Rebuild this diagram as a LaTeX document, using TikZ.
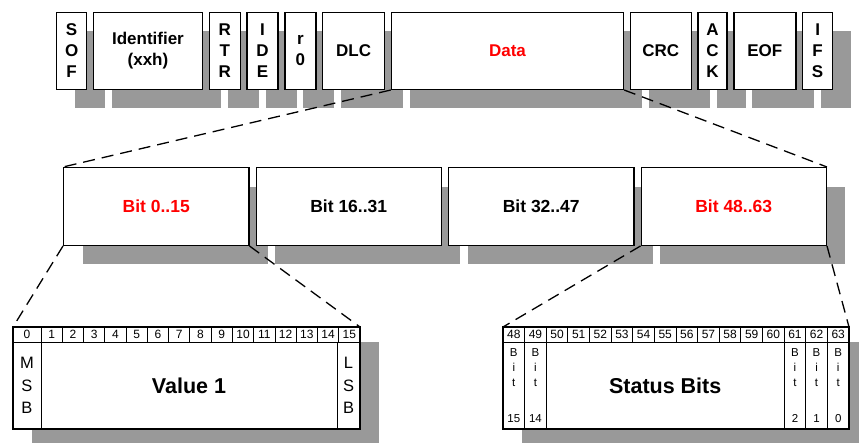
\documentclass[tikz,border=0pt]{standalone}
\usepackage{fontspec}
\setmainfont{Liberation Sans}
\usetikzlibrary{positioning,shadows}
\definecolor{shade}{RGB}{153,153,153}
\definecolor{hot}{RGB}{255,0,0}
\def\Gap{5.5pt}
\def\Cell{21.27}
\def\Rcell{21.625}

\begin{document}
\begin{tikzpicture}[x=1pt,y=-1pt,% styles for the whole frame picture
			every node/.style={
				align=center,		% so that "\\" breaks the line
				inner sep=0pt
			},
			field/.style={rectangle,draw=black,fill=white,line width=1.3pt,minimum height=76.7pt,
				font=\bfseries\fontsize{17}{21}\selectfont,
				drop shadow={shadow xshift=18.5pt,shadow yshift=-18.5pt,fill=shade,opacity=1}},
			bitgroup/.style={rectangle,draw=black,fill=white,line width=1.3pt,minimum width=185.2pt,minimum height=77.7pt,
				font=\bfseries\fontsize{17.5}{21}\selectfont,
				drop shadow={shadow xshift=19pt,shadow yshift=-19pt,fill=shade,opacity=1}},
			table/.style={rectangle,fill=white,outer sep=0pt,anchor=north west,minimum height=102pt,
				drop shadow={shadow xshift=19pt,shadow yshift=-15pt,fill=shade,opacity=1}},
			hdr/.style={rectangle,draw=black,fill=white,line width=0.9pt,outer sep=0pt,anchor=north west,
				minimum height=15pt,font=\fontsize{12}{14}\selectfont},
			cell/.style={rectangle,draw=black,fill=white,line width=0.9pt,outer sep=0pt,anchor=north west,
				minimum height=87pt},
			cutline/.style={dash pattern=on 12pt off 7pt,line width=1.3pt}
		]
		\useasboundingbox (0,0) rectangle (859,443);
		% CAN frame
		\node[field,minimum width=30pt,anchor=north west](SOF) at (56,12){S\\O\\F};
		\node[field,minimum width=109pt](ID)[right=\Gap of SOF]{Identifier\\(xxh)};
		\node[field,minimum width=31pt](RTR)[right=\Gap of ID]{R\\T\\R};
		\node[field,minimum width=31pt](IDE)[right=\Gap of RTR]{I\\D\\E};
		\node[field,minimum width=31pt](R0)[right=\Gap of IDE]{r\\0};
		\node[field,minimum width=62pt](DLC)[right=\Gap of R0]{DLC};
		\node[field,minimum width=232pt,text=hot](Data)[right=\Gap of DLC]{Data};
		\node[field,minimum width=61pt](CRC)[right=\Gap of Data]{CRC};
		\node[field,minimum width=29pt](ACK)[right=\Gap of CRC]{A\\C\\K};
		\node[field,minimum width=62pt](EOF)[right=\Gap of ACK]{EOF};
		\node[field,minimum width=30pt](IFS)[right=\Gap of EOF]{I\\F\\S};
		% data bytes
		\node[bitgroup,text=hot,anchor=north west](B1) at (63,167){Bit 0..15};
		\node[bitgroup](B2)[right=6pt of B1]{Bit 16..31};
		\node[bitgroup](B3)[right=6pt of B2]{Bit 32..47};
		\node[bitgroup,text=hot](B4)[right=6pt of B3]{Bit 48..63};
		% value word
		\node[table,minimum width=347pt](TL) at (13,327){};
		\node[hdr,minimum width=28pt](L0) at (13,327){0};
		\foreach \i in {1,...,15}
			\node[hdr,minimum width=\Cell pt](L\i) at ({41+(\i-1)*\Cell},327){\i};
		\node[cell,minimum width=28pt,font=\fontsize{16.5}{22.5}\selectfont](MSB) at (13,342){M\\S\\B};
		\node[cell,minimum width=296pt,font=\bfseries\fontsize{21.5}{26}\selectfont](Val) at (41,342){Value 1};
		\node[cell,minimum width=23pt,font=\fontsize{16.5}{22.5}\selectfont](LSB) at (337,342){L\\S\\B};
		\draw[line width=1.3pt] (TL.north west) rectangle (TL.south east);
		% status word
		\node[table,minimum width=346pt](TR) at (503,327){};
		\foreach \i in {0,...,15}{
			\pgfmathtruncatemacro\n{48+\i}
			\node[hdr,minimum width=\Rcell pt](H\n) at ({503+\i*\Rcell},327){\n};
		}
		\foreach \x/\nm/\b in {503/C15/15,524.625/C14/14,784.125/C2/2,805.75/C1/1,827.375/C0/0}
			\node[cell,minimum width=\Rcell pt,font=\fontsize{11.5}{15}\selectfont](\nm) at (\x,342){B\\i\\t\\[21pt]\b};
		\node[cell,minimum width=237.875pt,font=\bfseries\fontsize{21.5}{26}\selectfont](Stat) at (546.25,342){Status Bits};
		\draw[line width=1.3pt] (TR.north west) rectangle (TR.south east);
		% zoom lines
		\draw[cutline] (Data.south west) -- (B1.north west);
		\draw[cutline] (Data.south east) -- (B4.north east);
		\draw[cutline] (B1.south west) -- (TL.north west);
		\draw[cutline] (B1.south east) -- (TL.north east);
		\draw[cutline] (B4.south west) -- (TR.north west);
		\draw[cutline] (B4.south east) -- (TR.north east);
	\end{tikzpicture}
\end{document}
